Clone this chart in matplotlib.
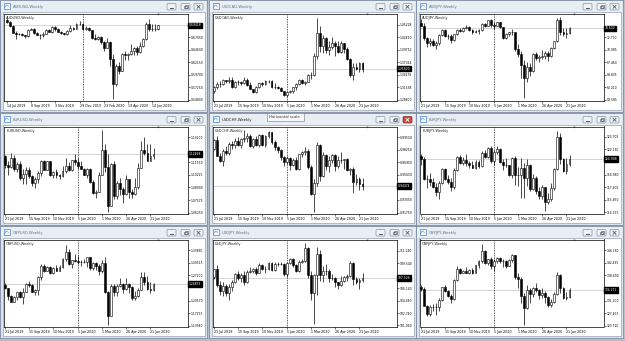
import numpy as np
import pandas as pd
import matplotlib
matplotlib.use('Agg')
import matplotlib.pyplot as plt
from matplotlib.patches import Rectangle, FancyBboxPatch
from matplotlib.transforms import blended_transform_factory

# weekly candles, one row per week: (open, high, low, close)
audusd = [
    (0.7045, 0.7082, 0.6990, 0.7000), (0.7000, 0.7030, 0.6915, 0.6925), (0.6925, 0.6940, 0.6792, 0.6800),
    (0.6800, 0.6822, 0.6677, 0.6775), (0.6775, 0.6790, 0.6745, 0.6772), (0.6772, 0.6790, 0.6735, 0.6755),
    (0.6755, 0.6760, 0.6690, 0.6727), (0.6727, 0.6865, 0.6710, 0.6855), (0.6855, 0.6895, 0.6845, 0.6875),
    (0.6875, 0.6895, 0.6770, 0.6790), (0.6790, 0.6810, 0.6750, 0.6760), (0.6760, 0.6780, 0.6670, 0.6755),
    (0.6755, 0.6810, 0.6715, 0.6780), (0.6780, 0.6862, 0.6765, 0.6855), (0.6855, 0.6865, 0.6810, 0.6812),
    (0.6812, 0.6930, 0.6800, 0.6905), (0.6905, 0.6925, 0.6840, 0.6860), (0.6860, 0.6880, 0.6810, 0.6820),
    (0.6820, 0.6840, 0.6770, 0.6785), (0.6785, 0.6790, 0.6755, 0.6765), (0.6765, 0.6855, 0.6755, 0.6840),
    (0.6840, 0.6940, 0.6820, 0.6895), (0.6895, 0.6910, 0.6850, 0.6870), (0.6870, 0.6980, 0.6865, 0.6975),
    (0.6975, 0.7032, 0.6955, 0.6960), (0.6960, 0.6980, 0.6850, 0.6865), (0.6865, 0.6935, 0.6855, 0.6890),
    (0.6890, 0.6900, 0.6830, 0.6845), (0.6845, 0.6850, 0.6682, 0.6687), (0.6687, 0.6770, 0.6660, 0.6680),
    (0.6680, 0.6735, 0.6660, 0.6715), (0.6715, 0.6730, 0.6585, 0.6610), (0.6610, 0.6625, 0.6435, 0.6505),
    (0.6505, 0.6685, 0.6500, 0.6620), (0.6620, 0.6640, 0.6150, 0.6285), (0.6285, 0.6390, 0.5506, 0.5790),
    (0.5790, 0.6175, 0.5750, 0.6150), (0.6150, 0.6215, 0.5980, 0.6050), (0.6050, 0.6400, 0.6040, 0.6385),
    (0.6385, 0.6445, 0.6255, 0.6360), (0.6360, 0.6400, 0.6255, 0.6385), (0.6385, 0.6570, 0.6360, 0.6440),
    (0.6440, 0.6525, 0.6370, 0.6505), (0.6505, 0.6530, 0.6370, 0.6420), (0.6420, 0.6617, 0.6400, 0.6545),
    (0.6545, 0.6684, 0.6520, 0.6665), (0.6665, 0.7000, 0.6650, 0.6975), (0.6975, 0.7064, 0.6835, 0.6870),
    (0.6870, 0.6976, 0.6825, 0.6865), (0.6865, 0.6977, 0.6830, 0.6870), (0.6870, 0.6956, 0.6845, 0.69418),
]

usdcad = [
    (1.3065, 1.3175, 1.3035, 1.3165), (1.3165, 1.3280, 1.3110, 1.3220), (1.3220, 1.3300, 1.3165, 1.3235),
    (1.3235, 1.3330, 1.3205, 1.3310), (1.3310, 1.3320, 1.3240, 1.3285), (1.3285, 1.3380, 1.3250, 1.3315),
    (1.3315, 1.3385, 1.3145, 1.3160), (1.3160, 1.3285, 1.3135, 1.3280), (1.3280, 1.3310, 1.3210, 1.3275),
    (1.3275, 1.3295, 1.3205, 1.3245), (1.3245, 1.3380, 1.3225, 1.3315), (1.3315, 1.3350, 1.3190, 1.3200),
    (1.3200, 1.3280, 1.3115, 1.3120), (1.3120, 1.3125, 1.3040, 1.3060), (1.3060, 1.3190, 1.3040, 1.3165),
    (1.3165, 1.3250, 1.3140, 1.3240), (1.3240, 1.3265, 1.3190, 1.3230), (1.3230, 1.3320, 1.3200, 1.3290),
    (1.3290, 1.3325, 1.3250, 1.3285), (1.3285, 1.3320, 1.3150, 1.3170), (1.3170, 1.3250, 1.3120, 1.3170),
    (1.3170, 1.3180, 1.3110, 1.3145), (1.3145, 1.3170, 1.3070, 1.3075), (1.3075, 1.3085, 1.2965, 1.2985),
    (1.2985, 1.3075, 1.2951, 1.3060), (1.3060, 1.3090, 1.3035, 1.3070), (1.3070, 1.3160, 1.3030, 1.3155),
    (1.3155, 1.3250, 1.3100, 1.3230), (1.3230, 1.3330, 1.3200, 1.3310), (1.3310, 1.3330, 1.3230, 1.3245),
    (1.3245, 1.3300, 1.3210, 1.3280), (1.3280, 1.3440, 1.3265, 1.3420), (1.3420, 1.3485, 1.3340, 1.3415),
    (1.3415, 1.3900, 1.3405, 1.3830), (1.3830, 1.4667, 1.3765, 1.4335), (1.4335, 1.4500, 1.3920, 1.4055),
    (1.4055, 1.4300, 1.3900, 1.4230), (1.4230, 1.4265, 1.3910, 1.3960), (1.3960, 1.4175, 1.3855, 1.4040),
    (1.4040, 1.4265, 1.4000, 1.4115), (1.4115, 1.4160, 1.3850, 1.4065), (1.4065, 1.4170, 1.3900, 1.3920),
    (1.3920, 1.4175, 1.3900, 1.4115), (1.4115, 1.4125, 1.3915, 1.3990), (1.3990, 1.4040, 1.3745, 1.3775),
    (1.3775, 1.3795, 1.3390, 1.3435), (1.3435, 1.3690, 1.3315, 1.3590), (1.3590, 1.3685, 1.3530, 1.3565),
    (1.3565, 1.3715, 1.3485, 1.3685), (1.3685, 1.3715, 1.3485, 1.35620),
]

audjpy = [
    (75.80, 76.50, 75.00, 75.20), (75.20, 75.70, 72.20, 72.50), (72.50, 72.80, 70.70, 71.60),
    (71.60, 72.60, 70.90, 72.05), (72.05, 72.40, 71.00, 71.20), (71.20, 71.90, 70.20, 71.50),
    (71.50, 73.40, 71.10, 73.30), (73.30, 74.50, 73.10, 74.30), (74.30, 74.40, 72.80, 73.05),
    (73.05, 73.40, 72.40, 72.95), (72.95, 73.50, 71.60, 72.20), (72.20, 73.50, 71.90, 73.40),
    (73.40, 74.40, 73.20, 74.30), (74.30, 74.60, 73.80, 74.05), (74.05, 74.90, 73.90, 74.70),
    (74.70, 75.30, 74.50, 74.90), (74.90, 75.10, 74.00, 74.20), (74.20, 74.40, 73.40, 73.75),
    (73.75, 74.20, 73.60, 74.10), (74.10, 74.50, 73.40, 74.30), (74.30, 75.70, 74.10, 75.45),
    (75.45, 75.70, 74.90, 75.15), (75.15, 76.40, 75.00, 76.30), (76.30, 76.55, 74.90, 75.25),
    (75.25, 75.90, 74.50, 75.20), (75.20, 76.00, 75.10, 75.85), (75.85, 75.95, 74.60, 74.80),
    (74.80, 74.90, 72.30, 72.50), (72.50, 73.70, 72.40, 73.35), (73.35, 73.90, 73.10, 73.75),
    (73.75, 74.40, 73.20, 73.75), (73.75, 73.90, 69.80, 70.20), (70.20, 71.25, 68.50, 69.20),
    (69.20, 69.80, 64.10, 66.90), (66.90, 68.00, 59.90, 64.20), (64.20, 67.50, 63.30, 66.40),
    (66.40, 67.30, 64.60, 65.60), (65.60, 69.40, 65.40, 69.20), (69.20, 69.70, 67.90, 68.40),
    (68.40, 69.00, 67.60, 68.60), (68.60, 70.00, 68.20, 68.80), (68.80, 69.80, 68.10, 69.35),
    (69.35, 69.90, 67.80, 68.75), (68.75, 70.60, 68.50, 70.40), (70.40, 72.00, 70.20, 71.85),
    (71.85, 76.80, 71.70, 76.45), (76.45, 77.00, 73.30, 73.80), (73.80, 74.70, 72.90, 73.35),
    (73.35, 74.60, 72.60, 73.65), (73.65, 74.80, 73.40, 74.602),
]

eurusd = [
    (1.1220, 1.1230, 1.1100, 1.1125), (1.1125, 1.1165, 1.1027, 1.1110), (1.1110, 1.1250, 1.1095, 1.1200),
    (1.1200, 1.1230, 1.1065, 1.1090), (1.1090, 1.1155, 1.1050, 1.1140), (1.1140, 1.1165, 1.0965, 1.0990),
    (1.0990, 1.1085, 1.0925, 1.1030), (1.1030, 1.1110, 1.0925, 1.1075), (1.1075, 1.1110, 1.0990, 1.1015),
    (1.1015, 1.1025, 1.0905, 1.0940), (1.0940, 1.1000, 1.0880, 1.0980), (1.0980, 1.1065, 1.0940, 1.1040),
    (1.1040, 1.1180, 1.1010, 1.1170), (1.1170, 1.1180, 1.1070, 1.1080), (1.1080, 1.1175, 1.1070, 1.1165),
    (1.1165, 1.1175, 1.1015, 1.1020), (1.1020, 1.1060, 1.0990, 1.1050), (1.1050, 1.1090, 1.0990, 1.1020),
    (1.1020, 1.1030, 1.0980, 1.1015), (1.1015, 1.1115, 1.1000, 1.1060), (1.1060, 1.1200, 1.1040, 1.1120),
    (1.1120, 1.1155, 1.1065, 1.1080), (1.1080, 1.1185, 1.1065, 1.1180), (1.1180, 1.1240, 1.1125, 1.1160),
    (1.1160, 1.1200, 1.1085, 1.1120), (1.1120, 1.1175, 1.1085, 1.1090), (1.1090, 1.1100, 1.1020, 1.1025),
    (1.1025, 1.1095, 1.0990, 1.1090), (1.1090, 1.1095, 1.0940, 1.0945), (1.0945, 1.0965, 1.0825, 1.0830),
    (1.0830, 1.0865, 1.0778, 1.0845), (1.0845, 1.1055, 1.0840, 1.1025), (1.1025, 1.1495, 1.1020, 1.1285),
    (1.1285, 1.1355, 1.1055, 1.1105), (1.1105, 1.1240, 1.0636, 1.0695), (1.0695, 1.1147, 1.0690, 1.1140),
    (1.1140, 1.1170, 1.0770, 1.0800), (1.0800, 1.0955, 1.0770, 1.0935), (1.0935, 1.0990, 1.0815, 1.0875),
    (1.0875, 1.0895, 1.0730, 1.0820), (1.0820, 1.1020, 1.0815, 1.0980), (1.0980, 1.0980, 1.0780, 1.0840),
    (1.0840, 1.0875, 1.0775, 1.0820), (1.0820, 1.0995, 1.0815, 1.0900), (1.0900, 1.1145, 1.0870, 1.1100),
    (1.1100, 1.1385, 1.1095, 1.1290), (1.1290, 1.1420, 1.1230, 1.1255), (1.1255, 1.1350, 1.1170, 1.1175),
    (1.1175, 1.1350, 1.1170, 1.1220), (1.1220, 1.1305, 1.1190, 1.12468),
]

usdchf = [
    (0.9830, 0.9940, 0.9820, 0.9930), (0.9930, 0.9965, 0.9755, 0.9760), (0.9760, 0.9790, 0.9700, 0.9710),
    (0.9710, 0.9830, 0.9660, 0.9810), (0.9810, 0.9865, 0.9770, 0.9790), (0.9790, 0.9900, 0.9770, 0.9880),
    (0.9880, 0.9920, 0.9835, 0.9875), (0.9875, 0.9950, 0.9840, 0.9915), (0.9915, 0.9960, 0.9860, 0.9875),
    (0.9875, 0.9945, 0.9840, 0.9935), (0.9935, 1.0027, 0.9900, 0.9950), (0.9950, 0.9995, 0.9905, 0.9965),
    (0.9965, 0.9985, 0.9850, 0.9860), (0.9860, 0.9945, 0.9840, 0.9935), (0.9935, 0.9965, 0.9860, 0.9870),
    (0.9870, 0.9990, 0.9850, 0.9975), (0.9975, 0.9990, 0.9865, 0.9870), (0.9870, 0.9975, 0.9850, 0.9970),
    (0.9970, 1.0015, 0.9950, 1.0005), (1.0005, 1.0010, 0.9880, 0.9905), (0.9905, 0.9930, 0.9820, 0.9850),
    (0.9850, 0.9860, 0.9790, 0.9820), (0.9820, 0.9830, 0.9720, 0.9745), (0.9745, 0.9755, 0.9655, 0.9700),
    (0.9700, 0.9765, 0.9680, 0.9740), (0.9740, 0.9745, 0.9610, 0.9665), (0.9665, 0.9735, 0.9655, 0.9720),
    (0.9720, 0.9745, 0.9615, 0.9625), (0.9625, 0.9785, 0.9610, 0.9780), (0.9780, 0.9815, 0.9750, 0.9805),
    (0.9805, 0.9850, 0.9770, 0.9815), (0.9815, 0.9830, 0.9625, 0.9645), (0.9645, 0.9665, 0.9360, 0.9370),
    (0.9370, 0.9520, 0.9183, 0.9480), (0.9480, 0.9900, 0.9445, 0.9870), (0.9870, 0.9885, 0.9500, 0.9555),
    (0.9555, 0.9800, 0.9545, 0.9775), (0.9775, 0.9785, 0.9615, 0.9660), (0.9660, 0.9760, 0.9595, 0.9720),
    (0.9720, 0.9785, 0.9685, 0.9770), (0.9770, 0.9785, 0.9600, 0.9655), (0.9655, 0.9760, 0.9635, 0.9720),
    (0.9720, 0.9800, 0.9690, 0.9715), (0.9715, 0.9730, 0.9630, 0.9725), (0.9725, 0.9735, 0.9600, 0.9610),
    (0.9610, 0.9640, 0.9565, 0.9625), (0.9625, 0.9645, 0.9375, 0.9495), (0.9495, 0.9575, 0.9460, 0.9520),
    (0.9520, 0.9545, 0.9405, 0.9475), (0.9475, 0.9535, 0.9410, 0.94474),
]

eurjpy = [
    (121.30, 121.50, 120.20, 120.90), (120.90, 121.15, 118.25, 118.43), (118.43, 118.90, 117.30, 118.38),
    (118.38, 119.15, 117.60, 118.00), (118.00, 118.55, 117.25, 117.42), (117.42, 117.90, 116.35, 116.82),
    (116.82, 118.15, 115.87, 117.91), (117.91, 119.85, 117.80, 119.72), (119.72, 119.80, 118.30, 118.47),
    (118.47, 118.90, 117.80, 118.04), (118.04, 118.50, 116.95, 117.38), (117.38, 119.75, 117.20, 119.56),
    (119.56, 121.30, 119.40, 121.14), (121.14, 121.45, 120.35, 120.44), (120.44, 121.20, 120.20, 120.81),
    (120.81, 121.50, 120.10, 120.39), (120.39, 120.65, 119.80, 120.22), (120.22, 120.70, 119.75, 119.79),
    (119.79, 120.85, 119.70, 120.61), (120.61, 120.75, 119.85, 120.11), (120.11, 121.95, 119.95, 121.65),
    (121.65, 122.10, 121.10, 121.22), (121.22, 122.45, 121.00, 122.36), (122.36, 122.50, 120.40, 120.64),
    (120.64, 122.00, 120.20, 121.76), (121.76, 122.60, 121.60, 122.16), (122.16, 122.30, 120.40, 120.50),
    (120.50, 120.95, 119.60, 120.22), (120.22, 121.00, 119.90, 120.12), (120.12, 120.20, 118.80, 118.91),
    (118.91, 121.15, 118.60, 121.03), (121.03, 121.30, 117.70, 118.96), (118.96, 119.90, 117.50, 118.94),
    (118.94, 121.10, 116.10, 119.82), (119.82, 120.40, 116.10, 118.50), (118.50, 120.90, 117.60, 120.20),
    (120.20, 120.30, 116.90, 117.18), (117.18, 119.05, 117.00, 118.54), (118.54, 118.85, 116.55, 116.91),
    (116.91, 117.45, 115.90, 116.32), (116.32, 117.70, 115.95, 117.38), (117.38, 117.40, 114.38, 115.55),
    (115.55, 116.65, 115.35, 115.88), (115.88, 117.90, 115.70, 117.28), (117.28, 119.80, 117.10, 119.66),
    (119.66, 124.43, 119.50, 123.74), (123.74, 124.20, 120.30, 120.88), (120.88, 121.10, 119.30, 119.46),
    (119.46, 121.10, 119.10, 120.28), (120.28, 121.40, 120.10, 120.908),
]

gbpusd = [
    (1.2470, 1.2520, 1.2370, 1.2375), (1.2375, 1.2385, 1.2080, 1.2165), (1.2165, 1.2210, 1.2015, 1.2030),
    (1.2030, 1.2165, 1.2015, 1.2150), (1.2150, 1.2285, 1.2065, 1.2280), (1.2280, 1.2310, 1.2125, 1.2160),
    (1.2160, 1.2385, 1.1959, 1.2290), (1.2290, 1.2505, 1.2280, 1.2500), (1.2500, 1.2580, 1.2420, 1.2460),
    (1.2460, 1.2500, 1.2270, 1.2290), (1.2290, 1.2350, 1.2205, 1.2330), (1.2330, 1.2710, 1.2195, 1.2670),
    (1.2670, 1.3010, 1.2600, 1.2970), (1.2970, 1.3010, 1.2805, 1.2835), (1.2835, 1.2975, 1.2830, 1.2940),
    (1.2940, 1.2960, 1.2765, 1.2770), (1.2770, 1.2930, 1.2765, 1.2900), (1.2900, 1.2985, 1.2820, 1.2835),
    (1.2835, 1.2985, 1.2820, 1.2935), (1.2935, 1.3165, 1.2920, 1.3150), (1.3150, 1.3515, 1.3105, 1.3330),
    (1.3330, 1.3400, 1.2995, 1.3010), (1.3010, 1.3120, 1.2905, 1.3110), (1.3110, 1.3285, 1.3080, 1.3085),
    (1.3085, 1.3215, 1.3010, 1.3060), (1.3060, 1.3120, 1.2955, 1.3070), (1.3070, 1.3145, 1.3030, 1.3080),
    (1.3080, 1.3210, 1.2950, 1.3200), (1.3200, 1.3210, 1.2870, 1.2900), (1.2900, 1.3070, 1.2850, 1.3050),
    (1.3050, 1.3070, 1.2850, 1.2960), (1.2960, 1.3005, 1.2725, 1.2820), (1.2820, 1.3110, 1.2785, 1.3045),
    (1.3045, 1.3200, 1.2260, 1.2280), (1.2280, 1.2300, 1.1409, 1.1650), (1.1650, 1.2485, 1.1640, 1.2450),
    (1.2450, 1.2485, 1.2165, 1.2270), (1.2270, 1.2485, 1.2165, 1.2450), (1.2450, 1.2650, 1.2410, 1.2490),
    (1.2490, 1.2505, 1.2250, 1.2365), (1.2365, 1.2645, 1.2345, 1.2490), (1.2490, 1.2505, 1.2265, 1.2405),
    (1.2405, 1.2435, 1.2075, 1.2130), (1.2130, 1.2295, 1.2075, 1.2165), (1.2165, 1.2385, 1.2160, 1.2345),
    (1.2345, 1.2810, 1.2335, 1.2670), (1.2670, 1.2813, 1.2455, 1.2550), (1.2550, 1.2690, 1.2335, 1.2350),
    (1.2350, 1.2535, 1.2250, 1.2335), (1.2335, 1.2530, 1.2300, 1.24873),
]

usdjpy = [
    (107.70, 108.80, 107.40, 108.70), (108.70, 109.30, 106.25, 106.60), (106.60, 107.10, 105.25, 105.70),
    (105.70, 106.95, 105.05, 106.40), (106.40, 106.75, 105.10, 105.40), (105.40, 106.65, 104.45, 106.30),
    (106.30, 107.25, 105.75, 106.90), (106.90, 108.25, 106.80, 108.10), (108.10, 108.50, 107.30, 107.55),
    (107.55, 108.15, 106.95, 107.90), (107.90, 108.45, 106.50, 106.90), (106.90, 108.60, 106.80, 108.30),
    (108.30, 108.95, 108.20, 108.45), (108.45, 108.85, 108.25, 108.70), (108.70, 108.95, 107.90, 108.20),
    (108.20, 109.50, 108.15, 109.25), (109.25, 109.45, 108.55, 108.80), (108.80, 109.10, 108.25, 108.70),
    (108.70, 109.70, 108.60, 109.50), (109.50, 109.75, 108.40, 108.60), (108.60, 109.70, 108.45, 109.40),
    (109.40, 109.65, 109.20, 109.40), (109.40, 109.70, 109.35, 109.45), (109.45, 109.55, 107.85, 108.10),
    (108.10, 109.70, 107.65, 109.50), (109.50, 110.30, 109.40, 110.15), (110.15, 110.20, 108.95, 109.30),
    (109.30, 109.40, 108.30, 108.40), (108.40, 110.00, 108.30, 109.75), (109.75, 110.15, 109.50, 109.80),
    (109.80, 112.23, 109.70, 111.60), (111.60, 111.70, 107.50, 107.90), (107.90, 108.50, 104.45, 105.40),
    (105.40, 108.00, 101.18, 107.90), (107.90, 111.70, 105.15, 110.80), (110.80, 111.30, 107.10, 107.90),
    (107.90, 109.10, 106.90, 108.50), (108.50, 109.40, 107.95, 108.40), (108.40, 108.70, 106.90, 107.50),
    (107.50, 108.00, 107.20, 107.50), (107.50, 107.60, 106.35, 106.90), (106.90, 107.00, 106.00, 106.60),
    (106.60, 107.80, 106.40, 107.10), (107.10, 107.75, 106.95, 107.60), (107.60, 108.10, 107.10, 107.80),
    (107.80, 109.85, 107.60, 109.60), (109.60, 109.70, 106.60, 107.40), (107.40, 107.65, 106.70, 106.90),
    (106.90, 107.45, 106.05, 107.20), (107.20, 108.15, 107.00, 107.526),
]

gbpjpy = [
    (135.20, 135.80, 133.95, 134.52), (134.52, 135.20, 129.50, 129.68), (129.68, 129.90, 126.55, 127.16),
    (127.16, 129.80, 126.70, 129.28), (129.28, 130.20, 128.20, 129.43), (129.43, 130.40, 126.90, 129.26),
    (129.26, 131.90, 128.10, 131.38), (131.38, 135.30, 131.20, 135.13), (135.13, 135.75, 133.70, 134.01),
    (134.01, 134.40, 132.30, 132.61), (132.61, 133.20, 130.50, 131.81), (131.81, 137.50, 131.50, 137.22),
    (137.22, 141.50, 137.00, 140.66), (140.66, 140.90, 139.00, 139.52), (139.52, 140.40, 139.30, 140.01),
    (140.01, 141.10, 139.30, 139.51), (139.51, 140.60, 139.20, 140.35), (140.35, 141.00, 139.10, 139.52),
    (139.52, 141.80, 139.40, 141.64), (141.64, 143.10, 140.90, 142.81), (142.81, 147.96, 142.50, 145.83),
    (145.83, 146.30, 142.20, 142.33), (142.33, 143.60, 141.70, 143.49), (143.49, 144.20, 140.70, 141.45),
    (141.45, 143.50, 140.10, 143.01), (143.01, 144.20, 142.50, 143.97), (143.97, 144.10, 142.40, 142.96),
    (142.96, 143.60, 141.20, 143.09), (143.09, 143.20, 140.90, 141.58), (141.58, 143.50, 141.50, 143.29),
    (143.29, 144.95, 142.70, 144.63), (144.63, 144.80, 137.60, 138.33), (138.33, 139.40, 134.80, 137.49),
    (137.49, 138.10, 130.50, 132.50), (132.50, 133.30, 124.04, 129.08), (129.08, 135.70, 128.70, 134.34),
    (134.34, 135.00, 130.60, 133.13), (133.13, 135.30, 132.40, 134.96), (134.96, 136.50, 133.60, 134.27),
    (134.27, 134.60, 131.60, 132.92), (132.92, 134.90, 132.10, 133.52), (133.52, 134.00, 130.60, 132.24),
    (132.24, 132.70, 129.20, 129.91), (129.91, 131.80, 129.30, 130.90), (130.90, 133.80, 130.40, 133.08),
    (133.08, 139.74, 132.90, 138.86), (138.86, 139.20, 133.50, 134.79), (134.79, 135.20, 131.70, 132.02),
    (132.02, 133.80, 131.30, 132.23), (132.23, 134.80, 131.90, 134.271),
]

symbols = ['AUDUSD', 'USDCAD', 'AUDJPY', 'EURUSD', 'USDCHF', 'EURJPY', 'GBPUSD', 'USDJPY', 'GBPJPY']
candles = [audusd, usdcad, audjpy, eurusd, usdchf, eurjpy, gbpusd, usdjpy, gbpjpy]
first_week = ['2019-07-14'] + ['2019-07-21'] * 8
digits = [5, 5, 3, 5, 5, 3, 5, 3, 3]

price_ticks = [
    [0.54800, 0.57250, 0.59700, 0.62150, 0.64600, 0.67050, 0.69500],
    [1.28800, 1.31538, 1.34276, 1.37014, 1.39752, 1.42490, 1.45228],
    [59.585, 62.210, 64.835, 67.460, 70.085, 72.710, 75.335],
    [1.06250, 1.07575, 1.08900, 1.10225, 1.11550, 1.12875, 1.14200],
    [0.91750, 0.93050, 0.94350, 0.95650, 0.96950, 0.98250, 0.99550],
    [114.255, 115.830, 117.405, 118.980, 120.555, 122.130, 123.705],
    [1.13940, 1.17255, 1.20570, 1.23885, 1.27200, 1.30515, 1.33830],
    [101.040, 102.740, 104.440, 106.140, 107.840, 109.540, 111.240],
    [123.710, 127.455, 131.200, 134.945, 138.690, 142.435, 146.180],
]
price_range = [
    (0.5470, 0.7173), (1.2868, 1.4768), (59.45, 77.72),
    (1.0615, 1.1535), (0.9165, 1.0065), (114.10, 125.00),
    (1.1374, 1.3660), (100.90, 112.76), (123.50, 149.33),
]

date_labels_first = ['14 Jul 2019', '8 Sep 2019', '3 Nov 2019', '29 Dec 2019',
                     '23 Feb 2020', '19 Apr 2020', '14 Jun 2020']
date_labels = ['21 Jul 2019', '15 Sep 2019', '10 Nov 2019', '5 Jan 2020',
               '1 Mar 2020', '26 Apr 2020', '21 Jun 2020']
year_start = '2020-01-05'
active = 'USDCHF'

# ---- screen geometry (pixels) ----
W, H = 625, 341
col_x = [0, 209, 416]
row_y = [0, 113, 226]
win_w, win_h = 207, 112
plot_h = 87

fig = plt.figure(figsize=(W / 100, H / 100), dpi=100)
fig.patch.set_facecolor('#b4bec9')
bg = fig.add_axes((0, 0, 1, 1))
bg.set_xlim(0, W)
bg.set_ylim(H, 0)
bg.axis('off')


def fig_rect(x, y, w, h):
    return (x / W, 1 - (y + h) / H, w / W, h / H)


def draw_window(x0, y0, title, is_active):
    bg.add_patch(Rectangle((x0, y0), win_w, win_h, fc='#dbe3eb', ec='#7d8ea1', lw=0.6))
    bg.add_patch(Rectangle((x0 + 0.8, y0 + 0.8), win_w - 1.6, 11, fc='#e9eef4', ec='none'))
    bg.add_patch(Rectangle((x0 + 2.5, y0 + 12.3), win_w - 5, win_h - 14.8,
                           fc='white', ec='#98a3af', lw=0.5))
    # chart icon
    bg.add_patch(Rectangle((x0 + 3.5, y0 + 3), 6, 6, fc='#f3f7fb', ec='#4a86c5', lw=0.5))
    bg.plot([x0 + 4.5, x0 + 6.3, x0 + 8.5], [y0 + 7.6, y0 + 5.0, y0 + 6.4], color='#4a86c5', lw=0.4)
    bg.text(x0 + 12.5, y0 + 6.6, title, fontsize=2.7, va='center', ha='left',
            color='#1e1e1e' if is_active else '#66717d')
    # caption buttons
    for k, bx in enumerate((167, 181, 194)):
        red = is_active and k == 2
        bg.add_patch(FancyBboxPatch((x0 + bx, y0 + 3.5), 9, 6.5,
                                    boxstyle='round,pad=0,rounding_size=1.2',
                                    fc='#c8453c' if red else '#f0f3f6',
                                    ec='#8b2f28' if red else '#8794a3', lw=0.5))
    gc = '#4f5963'
    bx = x0 + 167
    bg.plot([bx + 3, bx + 6], [y0 + 8, y0 + 8], color=gc, lw=0.7)
    bx = x0 + 181
    bg.add_patch(Rectangle((bx + 2.5, y0 + 5.6), 3.2, 2.8, fc='none', ec=gc, lw=0.45))
    bg.add_patch(Rectangle((bx + 3.6, y0 + 4.8), 3.2, 2.8, fc='none', ec=gc, lw=0.45))
    bx = x0 + 194
    xc = 'white' if is_active else gc
    bg.plot([bx + 3, bx + 6], [y0 + 5.3, y0 + 8.3], color=xc, lw=0.6)
    bg.plot([bx + 3, bx + 6], [y0 + 8.3, y0 + 5.3], color=xc, lw=0.6)


for i, (sym, rows) in enumerate(zip(symbols, candles)):
    x0 = col_x[i % 3]
    y0 = row_y[i // 3]
    draw_window(x0, y0, f'{sym},Weekly', sym == active)

    ax = fig.add_axes(fig_rect(x0 + 4, y0 + 13.5, 183.5, plot_h))
    ax.set_facecolor('white')

    o, h, l, c = np.array(rows).T
    x = np.arange(len(rows))
    up = c >= o
    ax.vlines(x, l, h, color='black', lw=0.5, zorder=2)
    ax.bar(x[up], (c - o)[up], bottom=o[up], width=0.62, color='white',
           edgecolor='black', lw=0.4, zorder=3)
    ax.bar(x[~up], (o - c)[~up], bottom=c[~up], width=0.62, color='black',
           edgecolor='black', lw=0.4, zorder=3)

    dates = pd.date_range(first_week[i], periods=len(rows), freq='7D')
    labels = date_labels_first if i == 0 else date_labels
    ticks_x = [dates.get_loc(pd.Timestamp(d)) for d in labels]
    sep = dates.get_loc(pd.Timestamp(year_start))

    left = -0.9 if i == 0 else -0.3
    ax.set_xlim(left, left + 60.5)
    lo, hi = price_range[i]
    ax.set_ylim(lo, hi)

    # bid line and period separator
    ax.axhline(c[-1], color='#c4c4c4', lw=0.5, zorder=1)
    ax.axvline(sep, color='black', lw=0.5, ls=(0, (1.2, 1.2)), zorder=1)

    for side in ax.spines.values():
        side.set_linewidth(0.5)
        side.set_color('black')

    # the price box hides scale labels that sit too close to it
    shown = [v for v in price_ticks[i] if abs(v - c[-1]) / (hi - lo) * plot_h > 5]
    ax.yaxis.tick_right()
    ax.set_yticks(shown)
    ax.set_yticklabels([f'{v:.{digits[i]}f}' for v in shown])
    ax.tick_params(axis='y', length=1.5, width=0.4, pad=1.0, labelsize=2.2)
    ax.set_xticks(ticks_x)
    ax.set_xticklabels(labels, ha='left')
    ax.tick_params(axis='x', length=1.5, width=0.4, pad=1.2, labelsize=2.3)

    ax.text(0.012, 0.975, f'{sym},Weekly', transform=ax.transAxes, fontsize=2.5,
            va='top', ha='left', color='#222222')
    ax.plot([0.839], [0.99], marker='v', ms=1.6, color='#8c8c8c', mec='none',
            transform=ax.transAxes, clip_on=False)

    tr = blended_transform_factory(ax.transAxes, ax.transData)
    ax.text(1.008, c[-1], f'{c[-1]:.{digits[i]}f}', transform=tr, fontsize=2.2,
            color='white', va='center', ha='left', zorder=10, clip_on=False,
            bbox=dict(boxstyle='square,pad=0.25', fc='black', ec='black'))

# tooltip over the active window
bg.add_patch(Rectangle((267, 113.2), 37, 8, fc='#f7f7f7', ec='#777777', lw=0.4, zorder=5))
bg.text(269, 117.3, 'Horizontal scale', fontsize=2.7, va='center', ha='left',
        color='#333333', zorder=6)

fig.savefig('out.png', dpi=100, facecolor=fig.get_facecolor())
